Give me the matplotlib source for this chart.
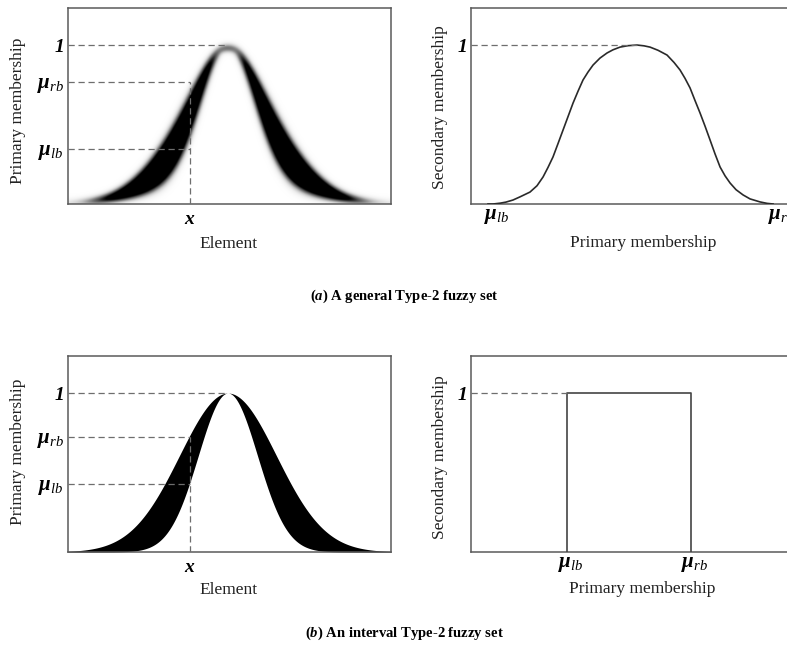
import numpy as np
import matplotlib
matplotlib.use('Agg')
import matplotlib.pyplot as plt
from matplotlib.transforms import ScaledTranslation

plt.rcParams['font.family'] = ['Liberation Serif', 'DejaVu Serif']
plt.rcParams['mathtext.fontset'] = 'custom'
plt.rcParams['mathtext.rm'] = 'Liberation Serif'
plt.rcParams['mathtext.it'] = 'Liberation Serif:italic'
plt.rcParams['mathtext.bf'] = 'Liberation Serif:bold:italic'

# ---------------- data ----------------
mf_center = 0.495          # element where primary membership peaks
x_point = 0.378            # the element "x"
general_sigma_upper = 0.1615
general_sigma_lower = 0.0807
interval_sigma_upper = 0.150
interval_sigma_lower = 0.0915
general_mu_lb = 0.346
general_mu_rb = 0.767
interval_mu_lb = 0.428
interval_mu_rb = 0.723

# secondary membership of the general Type-2 set at x (primary membership, grade)
secondary_x = [0.3401, 0.3475, 0.3578, 0.3667, 0.3770, 0.3874, 0.4021, 0.4125,
               0.4214, 0.4287, 0.4361, 0.4435, 0.4509, 0.4583, 0.4657, 0.4731,
               0.4804, 0.4878, 0.4952, 0.5055, 0.5159, 0.5247, 0.5351, 0.5469,
               0.5602, 0.5705, 0.5794, 0.5912, 0.6045, 0.6149, 0.6237, 0.6311,
               0.6385, 0.6459, 0.6533, 0.6606, 0.6680, 0.6754, 0.6828, 0.6902,
               0.6976, 0.7064, 0.7168, 0.7271, 0.7419, 0.7522, 0.7611]
secondary_y = [0.0, 0.0, 0.005, 0.012, 0.025, 0.045, 0.075, 0.115,
               0.17, 0.23, 0.296, 0.38, 0.465, 0.55, 0.635, 0.71,
               0.78, 0.83, 0.874, 0.918, 0.95, 0.97, 0.987, 0.996,
               1.0, 0.995, 0.987, 0.967, 0.937, 0.89, 0.843, 0.79,
               0.73, 0.65, 0.572, 0.49, 0.403, 0.315, 0.233, 0.177,
               0.132, 0.09, 0.057, 0.032, 0.013, 0.004, 0.0]

# ---------------- figure ----------------
W, H = 787, 646
fig = plt.figure(figsize=(W / 100, H / 100), dpi=100)

def ax_rect(l, t, r, b):
    return [l / W, 1 - b / H, (r - l) / W, (b - t) / H]

YTOP = 1.233
spine_col = '#5a5a5a'
dash_kw = dict(color='#6e6e6e', lw=0.9, dashes=(5, 3), zorder=5)
tick_fs = 14
mu_fs = 15

def style(ax):
    for s in ax.spines.values():
        s.set_color(spine_col)
        s.set_linewidth(1.1)
    ax.tick_params(length=0)
    ax.set_ylim(0, YTOP)

def mu(sub):
    return r'$\mathbf{\mu}_{\mathit{' + sub + '}}$'

def gauss(x, c, s):
    return np.exp(-(x - c) ** 2 / (2 * s ** 2))

def set_left_ticks(ax, lb, rb):
    ax.set_yticks([lb, rb, 1.0])
    ax.set_yticklabels([mu('lb'), mu('rb'), '1'])
    labs = ax.get_yticklabels()
    for lab in labs[:2]:
        lab.set_fontsize(mu_fs)
    labs[2].set_fontsize(tick_fs)
    labs[2].set_fontweight('bold')
    labs[2].set_fontstyle('italic')
    ax.tick_params(axis='y', pad=3)

# ---- (a) left: general T2 primary membership (blurred FOU) ----
ax1 = fig.add_axes(ax_rect(68, 8, 391, 204))
style(ax1)
ax1.set_xlim(0, 1)
nx, ny = 700, 420
xs = np.linspace(0, 1, nx)
ys = np.linspace(0, YTOP, ny)
X, Y = np.meshgrid(xs, ys)
gu = gauss(X, mf_center, general_sigma_upper)
gl = gauss(X, mf_center, general_sigma_lower)
gl = np.minimum(gl, gu - 0.035 * gu)
width = np.maximum(gu - gl, 1e-6)
t = (Y - gl) / width
tn = (np.array(secondary_x) - general_mu_lb) / (general_mu_rb - general_mu_lb)
tn = (tn - tn.min()) / (tn.max() - tn.min())
I = np.interp(t, tn, np.array(secondary_y), left=0, right=0)
I = np.clip(I * 2.0, 0, 1)

def blur(a, s):
    r = int(3 * s) + 1
    k = np.exp(-0.5 * (np.arange(-r, r + 1) / s) ** 2)
    k /= k.sum()
    p = np.pad(a, ((r, r), (r, r)), mode='edge')
    p = np.apply_along_axis(lambda v: np.convolve(v, k, mode='same'), 0, p)
    p = np.apply_along_axis(lambda v: np.convolve(v, k, mode='same'), 1, p)
    return p[r:-r, r:-r]

I = np.clip(blur(I, 6.5) * 1.45, 0, 1)
ax1.imshow(I, cmap='Greys', vmin=0, vmax=1, origin='lower', aspect='auto',
           extent=[0, 1, 0, YTOP], interpolation='bilinear', zorder=1)
ax1.plot([0, mf_center], [1, 1], **dash_kw)
ax1.plot([0, x_point], [general_mu_rb, general_mu_rb], **dash_kw)
ax1.plot([0, x_point], [general_mu_lb, general_mu_lb], **dash_kw)
ax1.plot([x_point, x_point], [0, general_mu_rb], **dash_kw)
set_left_ticks(ax1, general_mu_lb, general_mu_rb)
ax1.set_xticks([x_point])
ax1.set_xticklabels([r'$\mathbf{x}$'], fontsize=tick_fs)
ax1.tick_params(axis='x', pad=5)

# ---- (a) right: secondary membership ----
ax2 = fig.add_axes(ax_rect(471, 8, 794, 204))
style(ax2)
ax2.set_xlim(0.315, 0.792)
ax2.plot(secondary_x, secondary_y, color='#2a2a2a', lw=1.2, zorder=4,
         solid_joinstyle='round', antialiased=True)
ax2.plot([0.315, secondary_x[int(np.argmax(secondary_y))]], [1, 1], **dash_kw)
ax2.set_yticks([1.0])
ax2.set_yticklabels(['1'], fontsize=tick_fs, fontweight='bold', fontstyle='italic')
ax2.tick_params(axis='y', pad=3)
ax2.set_xticks([general_mu_lb, general_mu_rb])
ax2.set_xticklabels([mu('lb'), mu('rb')], fontsize=mu_fs)
ax2.tick_params(axis='x', pad=2)
for lab in ax2.get_xticklabels():
    lab.set_transform(lab.get_transform() + ScaledTranslation(5 / 100, 0, fig.dpi_scale_trans))

# ---- (b) left: interval T2 FOU ----
ax3 = fig.add_axes(ax_rect(68, 356, 391, 552))
style(ax3)
ax3.set_xlim(0, 1)
xf = np.linspace(0, 1, 800)
ax3.fill_between(xf, gauss(xf, mf_center, interval_sigma_lower),
                 gauss(xf, mf_center, interval_sigma_upper),
                 color='black', lw=0, zorder=2)
ax3.plot([0, mf_center], [1, 1], **dash_kw)
ax3.plot([0, x_point], [interval_mu_rb, interval_mu_rb], **dash_kw)
ax3.plot([0, x_point], [interval_mu_lb, interval_mu_lb], **dash_kw)
ax3.plot([x_point, x_point], [0, interval_mu_rb], **dash_kw)
set_left_ticks(ax3, interval_mu_lb, interval_mu_rb)
ax3.set_xticks([x_point])
ax3.set_xticklabels([r'$\mathbf{x}$'], fontsize=tick_fs)
ax3.tick_params(axis='x', pad=5)

# ---- (b) right: interval secondary membership ----
ax4 = fig.add_axes(ax_rect(471, 356, 794, 552))
style(ax4)
ax4.set_xlim(0.199, 0.968)
ax4.plot([interval_mu_lb, interval_mu_lb, interval_mu_rb, interval_mu_rb],
         [0, 1, 1, 0], color='#444444', lw=1.2, zorder=4)
ax4.plot([0.199, interval_mu_lb], [1, 1], **dash_kw)
ax4.set_yticks([1.0])
ax4.set_yticklabels(['1'], fontsize=tick_fs, fontweight='bold', fontstyle='italic')
ax4.tick_params(axis='y', pad=3)
ax4.set_xticks([interval_mu_lb, interval_mu_rb])
ax4.set_xticklabels([mu('lb'), mu('rb')], fontsize=mu_fs)
ax4.tick_params(axis='x', pad=2)
for lab in ax4.get_xticklabels():
    lab.set_transform(lab.get_transform() + ScaledTranslation(4 / 100, 0, fig.dpi_scale_trans))

# ---- axis titles and captions ----
lab_fs = 12.5
def ftext(x, y, s, **kw):
    fig.text(x / W, 1 - y / H, s, ha='center', va='center', **kw)

ftext(229, 244, 'Element', fontsize=lab_fs, color='#222222')
ftext(643, 243, 'Primary membership', fontsize=lab_fs, color='#222222')
ftext(229, 590, 'Element', fontsize=lab_fs, color='#222222')
ftext(642, 589, 'Primary membership', fontsize=lab_fs, color='#222222')
ftext(18, 111, 'Primary membership', fontsize=lab_fs, rotation=90, color='#222222')
ftext(18, 452, 'Primary membership', fontsize=lab_fs, rotation=90, color='#222222')
ftext(440, 107, 'Secondary membership', fontsize=lab_fs, rotation=90, color='#222222')
ftext(440, 457, 'Secondary membership', fontsize=lab_fs, rotation=90, color='#222222')

ftext(404, 296, r'($\mathbf{a}$) A general Type-2 fuzzy set', fontsize=10.5, fontweight='bold')
ftext(404, 633, r'($\mathbf{b}$) An interval Type-2 fuzzy set', fontsize=10.5, fontweight='bold')

fig.savefig('out.png', dpi=100)
